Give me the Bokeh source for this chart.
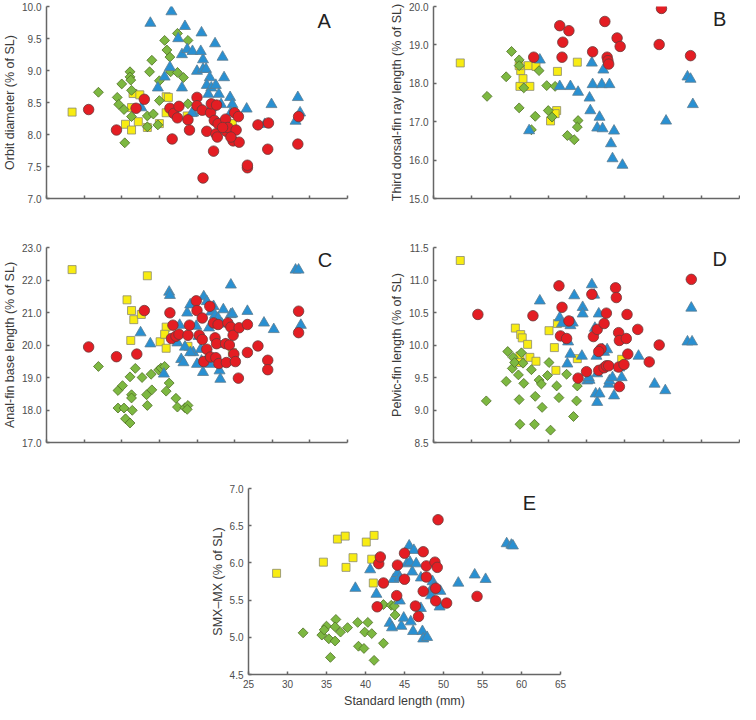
from bokeh.plotting import figure
from bokeh.layouts import column, row
from bokeh.models import Range1d, FixedTicker, NumeralTickFormatter, Label, Spacer
from bokeh.embed import file_html
from bokeh.resources import INLINE

# ---------------- data ----------------
X_TICKS = [25, 30, 35, 40, 45, 50, 55, 60, 65]

A_Y_TICKS = [7.0, 7.5, 8.0, 8.5, 9.0, 9.5, 10.0]
B_Y_TICKS = [15.0, 16.0, 17.0, 18.0, 19.0, 20.0]
C_Y_TICKS = [17.0, 18.0, 19.0, 20.0, 21.0, 22.0, 23.0]
D_Y_TICKS = [8.5, 9.0, 9.5, 10.0, 10.5, 11.0, 11.5]
E_Y_TICKS = [4.5, 5.0, 5.5, 6.0, 6.5, 7.0]

# Panel A: orbit diameter
A_SQ_X = [28.4, 35.5, 36.3, 37.2, 36.3, 36.5, 37.4, 38.4, 40.9, 41.2, 40.9, 40.0, 43.7, 49.7]
A_SQ_Y = [8.35, 8.16, 8.07, 8.20, 8.42, 8.64, 8.62, 8.11, 8.59, 8.58, 8.34, 8.17, 8.29, 8.17]
A_DI_X = [31.9, 36.1, 36.1, 36.2, 35.0, 34.4, 34.6, 35.3, 36.3, 36.3, 35.4, 38.4, 39.2, 38.4,
          38.7, 39.0, 40.0, 40.0, 39.8, 40.7, 41.0, 41.4, 41.5, 42.4, 42.4, 43.2, 43.8, 43.8]
A_DI_Y = [8.66, 8.98, 8.90, 8.85, 8.79, 8.58, 8.47, 8.39, 8.69, 8.28, 7.87, 8.29, 8.32, 8.12,
          8.98, 9.16, 8.84, 8.53, 8.15, 9.47, 9.32, 9.21, 8.98, 9.58, 8.97, 8.89, 9.47, 8.48]
A_TR_X = [38.8, 41.6, 43.4, 45.6, 42.5, 47.4, 43.0, 43.7, 44.4, 45.8, 45.5, 48.4, 41.4, 40.7,
          39.8, 43.0, 45.0, 45.8, 46.2, 46.7, 46.3, 46.9, 47.5, 46.5, 47.9, 48.6, 49.4, 49.7,
          49.5, 51.6, 54.0, 54.9, 58.1, 58.4, 58.7, 44.5, 45.8, 46.9, 48.2, 37.6, 44.3]
A_TR_Y = [9.74, 9.92, 9.69, 9.59, 9.50, 9.42, 9.25, 9.33, 9.30, 9.17, 9.30, 9.21, 9.05, 8.90,
          8.73, 8.73, 8.99, 9.02, 9.02, 8.89, 8.77, 8.73, 8.77, 8.63, 8.63, 8.89, 8.58, 8.47,
          8.34, 8.40, 8.16, 8.47, 8.21, 8.58, 8.34, 8.34, 8.37, 8.42, 8.47, 8.42, 8.33]
A_CI_X = [30.6, 34.3, 36.9, 38.0, 41.4, 41.7, 41.9, 42.4, 42.6, 43.8, 44.0, 45.0, 45.0, 45.7,
          45.8, 46.3, 46.8, 46.9, 47.2, 47.3, 47.5, 47.6, 47.7, 47.8, 48.8, 48.9, 49.1, 49.8,
          50.0, 50.2, 50.5, 50.6, 51.7, 51.7, 53.1, 54.4, 54.5, 58.4, 58.5, 48.4, 49.5]
A_CI_Y = [8.39, 8.07, 8.41, 8.55, 8.41, 7.93, 8.33, 8.26, 8.44, 8.23, 8.07, 8.58, 8.45, 8.38,
          7.32, 8.05, 8.34, 8.48, 7.74, 8.22, 8.01, 8.46, 7.96, 8.17, 8.24, 8.05, 8.11, 7.90,
          8.34, 8.07, 8.28, 7.88, 7.48, 7.52, 8.15, 7.77, 8.18, 7.85, 8.28, 8.11, 7.96]

# Panel B: third dorsal-fin ray length
B_SQ_X = [28.5, 36.4, 36.3, 36.7, 37.4, 38.4, 37.6, 41.2, 43.8, 41.1, 40.9, 40.3, 36.2]
B_SQ_Y = [18.53, 18.33, 17.92, 18.12, 18.46, 18.44, 17.92, 18.31, 18.55, 17.29, 17.21, 17.02, 18.46]
B_DI_X = [32.0, 34.5, 35.2, 36.2, 36.2, 36.2, 36.8, 37.8, 38.3, 38.8, 39.8, 40.0, 40.5, 40.9,
          42.5, 43.4, 43.9, 43.8]
B_DI_Y = [17.66, 18.17, 18.83, 18.61, 18.46, 17.36, 17.88, 16.79, 17.14, 18.33, 17.94, 17.29,
          17.12, 17.92, 16.64, 16.53, 17.03, 16.86]
B_TR_X = [37.5, 38.9, 41.5, 42.9, 43.9, 45.7, 45.4, 45.5, 45.8, 46.4, 46.7, 47.1, 47.2, 47.0,
          48.0, 48.2, 48.4, 48.6, 49.7, 55.4, 58.2, 58.6, 58.9]
B_TR_Y = [16.77, 18.61, 17.92, 17.92, 17.77, 18.53, 17.62, 17.29, 17.97, 16.84, 17.12, 16.82,
          18.35, 17.97, 17.97, 16.43, 16.04, 16.76, 15.87, 17.02, 18.17, 18.11, 17.45]
B_CI_X = [38.1, 41.5, 42.7, 41.9, 41.8, 45.8, 47.4, 47.7, 47.8, 47.9, 49.0, 49.4, 54.8, 54.5, 58.6]
B_CI_Y = [18.68, 19.50, 19.37, 19.07, 18.68, 18.82, 19.61, 18.68, 18.59, 18.50, 19.18, 18.96,
          19.95, 19.01, 18.72]

# Panel C: anal-fin base length
C_SQ_X = [28.4, 38.4, 35.7, 36.3, 36.6, 37.6, 36.2, 40.1, 40.9, 40.7, 40.9, 43.8, 49.7]
C_SQ_Y = [22.32, 22.13, 21.39, 21.06, 20.78, 20.94, 20.14, 20.10, 20.55, 20.33, 19.90, 19.96, 19.77]
C_DI_X = [31.9, 34.5, 35.1, 34.5, 35.3, 35.5, 36.1, 36.1, 36.3, 36.3, 36.4, 36.8, 37.7, 38.3,
          38.4, 38.9, 39.0, 39.9, 40.2, 40.7, 40.9, 41.3, 42.2, 42.4, 43.4, 43.8, 43.7]
C_DI_Y = [19.34, 18.60, 18.75, 18.06, 18.06, 17.73, 17.60, 19.02, 18.47, 18.37, 17.99, 19.28,
          19.00, 18.47, 18.14, 19.10, 18.62, 19.23, 19.29, 19.34, 18.58, 18.83, 18.36, 18.09,
          18.07, 18.14, 18.02]
C_TR_X = [37.5, 38.8, 40.6, 41.3, 41.4, 42.7, 42.4, 42.9, 43.2, 43.4, 43.7, 44.1, 44.5, 44.9,
          45.2, 45.5, 45.8, 45.9, 46.3, 46.6, 46.7, 46.9, 47.2, 47.4, 47.8, 48.0, 48.1, 48.3,
          48.5, 48.8, 49.5, 49.5, 49.7, 51.7, 53.9, 55.2, 58.1, 58.5, 58.8, 44.1, 45.6, 46.6, 45.0]
C_TR_Y = [20.38, 20.04, 19.11, 21.63, 21.53, 20.61, 20.07, 19.56, 19.46, 19.94, 20.99, 21.24,
          19.77, 20.58, 20.27, 19.87, 19.16, 21.49, 21.34, 20.53, 19.41, 21.02, 21.19, 20.92,
          20.83, 19.21, 18.95, 20.65, 21.09, 20.02, 21.85, 20.94, 20.96, 21.04, 20.68, 20.48,
          22.31, 22.31, 20.61, 19.77, 19.51, 19.69, 19.41]
C_CI_X = [30.6, 34.3, 37.0, 38.0, 41.4, 41.8, 41.6, 42.2, 42.6, 43.8, 44.0, 44.9, 45.0, 45.3,
          45.7, 45.7, 45.9, 46.3, 46.7, 46.8, 47.2, 47.4, 47.5, 47.6, 47.8, 47.9, 48.8, 48.9,
          49.1, 49.3, 49.5, 49.8, 49.9, 50.1, 50.5, 50.6, 51.7, 51.7, 53.1, 54.4, 54.4, 58.5, 58.5]
C_CI_Y = [19.94, 19.64, 19.72, 21.06, 20.99, 20.61, 20.20, 20.27, 20.33, 20.30, 20.61, 21.36,
          21.06, 20.30, 20.83, 20.17, 19.49, 19.87, 21.19, 19.63, 20.68, 20.22, 19.61, 20.04,
          20.63, 19.43, 20.04, 19.46, 20.68, 20.00, 20.55, 20.30, 19.72, 19.49, 18.98, 20.53,
          20.63, 19.77, 19.97, 19.53, 19.24, 21.04, 20.38]

# Panel D: pelvic-fin length
D_SQ_X = [28.5, 35.7, 36.4, 36.6, 37.3, 36.3, 36.4, 37.6, 38.4, 40.1, 41.2, 40.8, 41.0, 43.8, 49.6]
D_SQ_Y = [11.30, 10.26, 10.16, 10.11, 10.01, 9.83, 9.73, 9.81, 9.75, 10.22, 10.33, 9.96, 9.61,
          9.79, 9.78]
D_DI_X = [31.9, 34.5, 34.7, 35.4, 35.3, 35.6, 36.1, 36.2, 36.3, 36.5, 36.7, 36.8, 37.8, 38.3,
          38.2, 38.8, 39.1, 39.2, 39.9, 40.1, 40.3, 41.1, 41.4, 42.4, 43.3, 43.7, 43.8]
D_DI_Y = [9.14, 9.44, 9.90, 9.81, 9.64, 9.73, 9.54, 9.16, 8.78, 9.88, 9.72, 9.41, 9.62, 9.21,
          8.78, 9.46, 9.40, 9.04, 9.53, 9.73, 8.69, 9.37, 9.19, 9.55, 8.90, 9.14, 9.37]
D_TR_X = [38.9, 41.5, 41.8, 42.6, 42.5, 42.9, 43.4, 42.9, 43.2, 44.4, 44.5, 44.5, 45.1, 45.4,
          45.7, 46.0, 46.1, 46.3, 46.4, 46.6, 46.2, 46.4, 46.7, 47.1, 47.3, 47.7, 47.9, 48.0,
          48.4, 48.6, 49.3, 49.6, 51.8, 53.9, 55.3, 58.2, 58.8, 58.7, 45.3]
D_TR_Y = [10.68, 10.42, 10.33, 10.05, 9.71, 9.86, 10.76, 10.30, 10.34, 9.83, 10.58, 10.48, 9.45,
          9.46, 10.93, 10.77, 10.26, 9.83, 9.56, 10.48, 9.25, 9.12, 9.25, 9.93, 9.89, 9.93, 9.40,
          9.45, 9.50, 9.22, 9.65, 9.50, 9.83, 9.40, 9.30, 10.05, 10.05, 10.57, 9.50]
D_CI_X = [30.8, 38.0, 41.4, 41.8, 41.6, 42.4, 42.7, 43.9, 45.0, 45.7, 45.9, 46.4, 46.6, 46.9,
          47.3, 47.3, 47.6, 47.6, 47.9, 48.8, 48.9, 49.2, 49.3, 49.2, 49.3, 49.9, 50.2, 50.4,
          50.3, 51.7, 53.2, 54.5, 58.7, 46.6]
D_CI_Y = [10.47, 10.45, 10.91, 10.58, 10.14, 10.10, 10.37, 9.49, 9.59, 10.78, 10.13, 10.24, 9.61,
          9.94, 10.33, 9.65, 10.49, 9.68, 9.68, 10.88, 10.73, 10.19, 10.07, 9.66, 9.36, 9.70,
          10.10, 9.86, 10.47, 10.24, 9.74, 10.00, 11.01, 9.90]

# Panel E: SMX-MX
E_SQ_X = [28.6, 34.6, 36.4, 37.4, 37.5, 38.4, 40.1, 41.1, 40.8, 41.0]
E_SQ_Y = [5.86, 6.01, 6.32, 6.36, 5.94, 6.07, 6.28, 6.37, 6.05, 5.73]
E_DI_X = [32.0, 34.4, 35.0, 34.7, 35.3, 35.5, 36.2, 36.1, 36.1, 36.8, 37.7, 39.0, 39.1, 39.8,
          39.9, 40.3, 40.8, 41.1, 42.3, 42.3, 43.3, 43.7, 43.8]
E_DI_Y = [5.06, 5.03, 5.15, 5.10, 4.98, 4.73, 5.24, 5.14, 4.95, 5.07, 5.13, 5.20, 4.88, 4.85,
          5.07, 5.20, 5.05, 4.69, 5.44, 4.92, 5.43, 5.42, 5.30]
E_TR_X = [38.7, 40.6, 41.4, 43.1, 43.4, 43.6, 44.1, 44.4, 44.4, 44.6, 44.9, 45.3, 45.6, 45.7,
          45.8, 46.0, 46.2, 46.1, 46.5, 47.1, 47.1, 47.3, 47.4, 47.9, 48.6, 48.3, 48.8, 48.4,
          49.0, 49.5, 49.6, 51.9, 54.0, 55.4, 58.1, 58.7, 58.9]
E_TR_Y = [5.66, 5.91, 5.58, 5.19, 5.13, 5.78, 5.86, 5.80, 5.49, 5.15, 5.26, 5.99, 6.23, 6.01,
          5.21, 5.88, 6.17, 5.08, 5.99, 5.39, 5.80, 5.08, 4.98, 5.00, 5.75, 5.62, 5.69, 5.56,
          5.65, 5.41, 5.62, 5.73, 5.84, 5.78, 6.26, 6.24, 6.23]
E_CI_X = [41.5, 41.7, 41.9, 42.3, 44.1, 44.0, 45.0, 45.0, 46.4, 46.8, 47.4, 47.4, 47.8, 47.8,
          48.9, 49.0, 49.0, 49.2, 49.3, 50.4, 54.3]
E_CI_Y = [5.41, 5.99, 6.08, 5.73, 5.97, 5.56, 6.13, 5.78, 5.42, 5.28, 6.15, 5.62, 5.96, 5.81,
          6.01, 5.66, 5.49, 5.94, 6.58, 5.46, 5.55]

# ---------------- style ----------------
FONT = "Liberation Sans"
AXIS_COL = "#666666"
TICK_TXT = "#4d4d4d"
TITLE_TXT = "#3a3a3a"

SQ_STYLE = dict(marker="square", size=8, fill_color="#f8ec12", line_color="#8a8a70", line_width=0.8)
DI_STYLE = dict(marker="square", angle=0.785398, size=7, fill_color="#7db841", line_color="#4f6e25", line_width=0.8)
TR_STYLE = dict(marker="triangle", size=11, fill_color="#2990d2", line_color="#5d7d92", line_width=0.8)
CI_STYLE = dict(marker="circle", size=10.5, fill_color="#e41d23", line_color="#6b3a3a", line_width=0.8)


def make_panel(width, height, mbl, mbr, mbt, mbb, yrange, yticks, ylabel, letter, letter_xy,
               series, show_x_labels):
    p = figure(width=width, height=height, x_range=Range1d(25, 65), y_range=Range1d(*yrange),
               output_backend="svg", toolbar_location=None,
               min_border_left=mbl, min_border_right=mbr, min_border_top=mbt, min_border_bottom=mbb)
    p.grid.visible = False
    p.outline_line_color = None
    p.background_fill_color = "white"
    p.border_fill_color = "white"

    for ax in (p.xaxis[0], p.yaxis[0]):
        ax.axis_line_color = AXIS_COL
        ax.axis_line_width = 1.5
        ax.major_tick_line_color = AXIS_COL
        ax.major_tick_line_width = 1.5
        ax.major_tick_in = 3
        ax.major_tick_out = 0
        ax.minor_tick_line_color = None
        ax.major_label_text_font = FONT
        ax.major_label_text_font_size = "10px"
        ax.major_label_text_color = TICK_TXT
        ax.axis_label_text_font = FONT
        ax.axis_label_text_font_size = "12.5px"
        ax.axis_label_text_font_style = "normal"
        ax.axis_label_text_color = TITLE_TXT

    p.xaxis.ticker = FixedTicker(ticks=X_TICKS)
    p.yaxis.ticker = FixedTicker(ticks=yticks)
    p.yaxis.formatter = NumeralTickFormatter(format="0.0")
    p.yaxis.axis_label = ylabel
    p.yaxis.major_label_standoff = 5
    p.yaxis.axis_label_standoff = 2
    if show_x_labels:
        p.xaxis.axis_label = "Standard length (mm)"
        p.xaxis.major_label_standoff = 5
        p.xaxis.axis_label_standoff = 3
    else:
        p.xaxis.major_label_overrides = {t: "" for t in X_TICKS}
        p.xaxis.major_label_standoff = 0

    for (xs, ys), style in zip(series, (SQ_STYLE, DI_STYLE, TR_STYLE, CI_STYLE)):
        p.scatter(xs, ys, **style)

    p.add_layout(Label(x=letter_xy[0], y=letter_xy[1], text=letter, text_font=FONT,
                       text_font_size="20px", text_color="#222222",
                       text_align="center", text_baseline="middle"))
    return p


pA = make_panel(370, 239, 38, 23, 6, 41, (7.0, 10.0), A_Y_TICKS, "Orbit diameter (% of SL)",
                "A", (61.9, 9.78),
                [(A_SQ_X, A_SQ_Y), (A_DI_X, A_DI_Y), (A_TR_X, A_TR_Y), (A_CI_X, A_CI_Y)], False)
pB = make_panel(370, 239, 63, 1, 6, 41, (15.0, 20.0), B_Y_TICKS,
                "Third dorsal-fin ray length (% of SL)", "B", (62.4, 19.67),
                [(B_SQ_X, B_SQ_Y), (B_DI_X, B_DI_Y), (B_TR_X, B_TR_Y), (B_CI_X, B_CI_Y)], False)
pC = make_panel(370, 243, 38, 23, 8, 40, (17.0, 23.0), C_Y_TICKS, "Anal-fin base length (% of SL)",
                "C", (62.0, 22.61),
                [(C_SQ_X, C_SQ_Y), (C_DI_X, C_DI_Y), (C_TR_X, C_TR_Y), (C_CI_X, C_CI_Y)], False)
pD = make_panel(370, 243, 63, 1, 8, 40, (8.5, 11.5), D_Y_TICKS, "Pelvic-fin length (% of SL)",
                "D", (62.4, 11.33),
                [(D_SQ_X, D_SQ_Y), (D_DI_X, D_DI_Y), (D_TR_X, D_TR_Y), (D_CI_X, D_CI_Y)], False)
pE = make_panel(382, 228, 60, 10, 6, 36, (4.5, 7.0), E_Y_TICKS, "SMX\u2013MX (% of SL)",
                "E", (61.0, 6.81),
                [(E_SQ_X, E_SQ_Y), (E_DI_X, E_DI_Y), (E_TR_X, E_TR_Y), (E_CI_X, E_CI_Y)], True)

layout = column(row(pA, pB), row(pC, pD), row(Spacer(width=188, height=228), pE))

open("out.html", "w").write(file_html(layout, INLINE))
